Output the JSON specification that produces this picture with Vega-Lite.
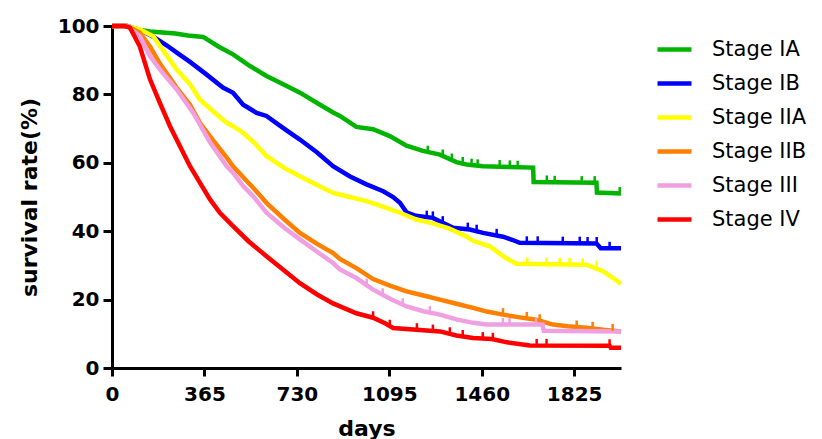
{
  "$schema": "https://vega.github.io/schema/vega-lite/v6.json",
  "autosize": {"type": "none"},
  "width": 509,
  "height": 342,
  "padding": {"left": 112, "top": 26, "right": 201, "bottom": 71},
  "background": "white",
  "config": {"view": {"stroke": null}},
  "datasets": {
    "curves": [
    {"stage":"Stage IA","day":0,"rate":100},{"stage":"Stage IA","day":60,"rate":100},{"stage":"Stage IA","day":100,"rate":99},{"stage":"Stage IA","day":150,"rate":98.4},{"stage":"Stage IA","day":250,"rate":97.8},{"stage":"Stage IA","day":300,"rate":97.2},{"stage":"Stage IA","day":360,"rate":96.8},{"stage":"Stage IA","day":420,"rate":94},{"stage":"Stage IA","day":478,"rate":91.7},{"stage":"Stage IA","day":545,"rate":88.3},{"stage":"Stage IA","day":610,"rate":85.4},{"stage":"Stage IA","day":680,"rate":82.8},{"stage":"Stage IA","day":742,"rate":80.5},{"stage":"Stage IA","day":810,"rate":77.5},{"stage":"Stage IA","day":873,"rate":74.7},{"stage":"Stage IA","day":900,"rate":73.7},{"stage":"Stage IA","day":965,"rate":70.5},{"stage":"Stage IA","day":1031,"rate":69.8},{"stage":"Stage IA","day":1097,"rate":67.8},{"stage":"Stage IA","day":1163,"rate":65},{"stage":"Stage IA","day":1228,"rate":63.5},{"stage":"Stage IA","day":1295,"rate":62.4},{"stage":"Stage IA","day":1360,"rate":60.2},{"stage":"Stage IA","day":1400,"rate":59.5},{"stage":"Stage IA","day":1465,"rate":59},{"stage":"Stage IA","day":1663,"rate":58.6},{"stage":"Stage IA","day":1665,"rate":54.4},{"stage":"Stage IA","day":1913,"rate":54.2},{"stage":"Stage IA","day":1915,"rate":51.3},{"stage":"Stage IA","day":2010,"rate":51},

    {"stage":"Stage IB","day":0,"rate":100},{"stage":"Stage IB","day":60,"rate":100},{"stage":"Stage IB","day":120,"rate":98.5},{"stage":"Stage IB","day":160,"rate":97},{"stage":"Stage IB","day":217,"rate":94.3},{"stage":"Stage IB","day":260,"rate":92},{"stage":"Stage IB","day":308,"rate":89.5},{"stage":"Stage IB","day":370,"rate":86},{"stage":"Stage IB","day":438,"rate":82},{"stage":"Stage IB","day":478,"rate":80.5},{"stage":"Stage IB","day":518,"rate":77},{"stage":"Stage IB","day":571,"rate":74.6},{"stage":"Stage IB","day":610,"rate":73.7},{"stage":"Stage IB","day":660,"rate":71},{"stage":"Stage IB","day":702,"rate":68.8},{"stage":"Stage IB","day":742,"rate":66.8},{"stage":"Stage IB","day":810,"rate":63},{"stage":"Stage IB","day":873,"rate":59},{"stage":"Stage IB","day":940,"rate":56},{"stage":"Stage IB","day":1005,"rate":53.7},{"stage":"Stage IB","day":1071,"rate":51.7},{"stage":"Stage IB","day":1110,"rate":50},{"stage":"Stage IB","day":1137,"rate":48.3},{"stage":"Stage IB","day":1163,"rate":45.5},{"stage":"Stage IB","day":1200,"rate":44.5},{"stage":"Stage IB","day":1267,"rate":43.9},{"stage":"Stage IB","day":1347,"rate":41},{"stage":"Stage IB","day":1413,"rate":40.5},{"stage":"Stage IB","day":1465,"rate":39.5},{"stage":"Stage IB","day":1544,"rate":38.4},{"stage":"Stage IB","day":1580,"rate":37.5},{"stage":"Stage IB","day":1610,"rate":36.6},{"stage":"Stage IB","day":1913,"rate":36.4},{"stage":"Stage IB","day":1930,"rate":35},{"stage":"Stage IB","day":2010,"rate":35},

    {"stage":"Stage IIA","day":0,"rate":100},{"stage":"Stage IIA","day":60,"rate":100},{"stage":"Stage IIA","day":110,"rate":99},{"stage":"Stage IIA","day":163,"rate":97},{"stage":"Stage IIA","day":210,"rate":92},{"stage":"Stage IIA","day":255,"rate":87.3},{"stage":"Stage IIA","day":308,"rate":83},{"stage":"Stage IIA","day":347,"rate":78.5},{"stage":"Stage IIA","day":400,"rate":75},{"stage":"Stage IIA","day":453,"rate":71.7},{"stage":"Stage IIA","day":478,"rate":70.7},{"stage":"Stage IIA","day":518,"rate":68.8},{"stage":"Stage IIA","day":560,"rate":66},{"stage":"Stage IIA","day":610,"rate":62},{"stage":"Stage IIA","day":680,"rate":58.5},{"stage":"Stage IIA","day":742,"rate":56.1},{"stage":"Stage IIA","day":810,"rate":53.5},{"stage":"Stage IIA","day":873,"rate":51.2},{"stage":"Stage IIA","day":940,"rate":50},{"stage":"Stage IIA","day":1005,"rate":48.8},{"stage":"Stage IIA","day":1070,"rate":47.2},{"stage":"Stage IIA","day":1137,"rate":45.4},{"stage":"Stage IIA","day":1200,"rate":43.5},{"stage":"Stage IIA","day":1267,"rate":42.3},{"stage":"Stage IIA","day":1330,"rate":40.8},{"stage":"Stage IIA","day":1399,"rate":38.5},{"stage":"Stage IIA","day":1426,"rate":37.2},{"stage":"Stage IIA","day":1492,"rate":35.6},{"stage":"Stage IIA","day":1544,"rate":32.7},{"stage":"Stage IIA","day":1597,"rate":30.5},{"stage":"Stage IIA","day":1873,"rate":30.2},{"stage":"Stage IIA","day":1939,"rate":28.3},{"stage":"Stage IIA","day":1979,"rate":26.3},{"stage":"Stage IIA","day":2010,"rate":24.6},

    {"stage":"Stage IIB","day":0,"rate":100},{"stage":"Stage IIB","day":60,"rate":100},{"stage":"Stage IIB","day":110,"rate":98},{"stage":"Stage IIB","day":150,"rate":94},{"stage":"Stage IIB","day":189,"rate":89},{"stage":"Stage IIB","day":255,"rate":82},{"stage":"Stage IIB","day":308,"rate":77},{"stage":"Stage IIB","day":347,"rate":71.7},{"stage":"Stage IIB","day":400,"rate":66.5},{"stage":"Stage IIB","day":453,"rate":61.5},{"stage":"Stage IIB","day":478,"rate":59},{"stage":"Stage IIB","day":518,"rate":55.8},{"stage":"Stage IIB","day":560,"rate":52.5},{"stage":"Stage IIB","day":610,"rate":48.3},{"stage":"Stage IIB","day":680,"rate":43.5},{"stage":"Stage IIB","day":742,"rate":39.5},{"stage":"Stage IIB","day":810,"rate":36.3},{"stage":"Stage IIB","day":873,"rate":33.6},{"stage":"Stage IIB","day":900,"rate":31.9},{"stage":"Stage IIB","day":965,"rate":29.2},{"stage":"Stage IIB","day":1031,"rate":26},{"stage":"Stage IIB","day":1100,"rate":24},{"stage":"Stage IIB","day":1163,"rate":22.4},{"stage":"Stage IIB","day":1230,"rate":21.2},{"stage":"Stage IIB","day":1295,"rate":20},{"stage":"Stage IIB","day":1360,"rate":18.8},{"stage":"Stage IIB","day":1426,"rate":17.6},{"stage":"Stage IIB","day":1480,"rate":16.5},{"stage":"Stage IIB","day":1544,"rate":15.6},{"stage":"Stage IIB","day":1610,"rate":14.8},{"stage":"Stage IIB","day":1676,"rate":14.1},{"stage":"Stage IIB","day":1741,"rate":12.7},{"stage":"Stage IIB","day":1800,"rate":12.2},{"stage":"Stage IIB","day":1873,"rate":11.8},{"stage":"Stage IIB","day":1940,"rate":11.2},{"stage":"Stage IIB","day":2010,"rate":10.7},

    {"stage":"Stage III","day":0,"rate":100},{"stage":"Stage III","day":60,"rate":100},{"stage":"Stage III","day":110,"rate":97},{"stage":"Stage III","day":150,"rate":91.2},{"stage":"Stage III","day":189,"rate":87.3},{"stage":"Stage III","day":255,"rate":81.5},{"stage":"Stage III","day":321,"rate":74.6},{"stage":"Stage III","day":387,"rate":66},{"stage":"Stage III","day":453,"rate":59},{"stage":"Stage III","day":478,"rate":57.1},{"stage":"Stage III","day":518,"rate":53.2},{"stage":"Stage III","day":560,"rate":50},{"stage":"Stage III","day":610,"rate":45.4},{"stage":"Stage III","day":680,"rate":41},{"stage":"Stage III","day":742,"rate":37.6},{"stage":"Stage III","day":810,"rate":34},{"stage":"Stage III","day":873,"rate":30.7},{"stage":"Stage III","day":900,"rate":28.8},{"stage":"Stage III","day":965,"rate":26.3},{"stage":"Stage III","day":1031,"rate":22.9},{"stage":"Stage III","day":1100,"rate":20.2},{"stage":"Stage III","day":1163,"rate":18},{"stage":"Stage III","day":1230,"rate":16.6},{"stage":"Stage III","day":1295,"rate":15.6},{"stage":"Stage III","day":1360,"rate":14.2},{"stage":"Stage III","day":1426,"rate":13.2},{"stage":"Stage III","day":1480,"rate":12.7},{"stage":"Stage III","day":1700,"rate":12.7},{"stage":"Stage III","day":1705,"rate":10.9},{"stage":"Stage III","day":2010,"rate":10.7},

    {"stage":"Stage IV","day":0,"rate":100},{"stage":"Stage IV","day":50,"rate":100},{"stage":"Stage IV","day":71,"rate":99.5},{"stage":"Stage IV","day":110,"rate":94},{"stage":"Stage IV","day":150,"rate":84.4},{"stage":"Stage IV","day":189,"rate":77.5},{"stage":"Stage IV","day":229,"rate":70.7},{"stage":"Stage IV","day":268,"rate":64.9},{"stage":"Stage IV","day":308,"rate":59},{"stage":"Stage IV","day":347,"rate":54.2},{"stage":"Stage IV","day":387,"rate":49.3},{"stage":"Stage IV","day":426,"rate":45.4},{"stage":"Stage IV","day":478,"rate":41.5},{"stage":"Stage IV","day":540,"rate":37},{"stage":"Stage IV","day":610,"rate":32.7},{"stage":"Stage IV","day":680,"rate":28.5},{"stage":"Stage IV","day":742,"rate":24.8},{"stage":"Stage IV","day":810,"rate":21.5},{"stage":"Stage IV","day":873,"rate":18.9},{"stage":"Stage IV","day":965,"rate":16},{"stage":"Stage IV","day":1031,"rate":14.7},{"stage":"Stage IV","day":1080,"rate":13},{"stage":"Stage IV","day":1110,"rate":11.7},{"stage":"Stage IV","day":1295,"rate":10.7},{"stage":"Stage IV","day":1360,"rate":9.5},{"stage":"Stage IV","day":1426,"rate":8.8},{"stage":"Stage IV","day":1500,"rate":8.5},{"stage":"Stage IV","day":1560,"rate":7.5},{"stage":"Stage IV","day":1650,"rate":6.6},{"stage":"Stage IV","day":1965,"rate":6.5},{"stage":"Stage IV","day":1970,"rate":5.9},{"stage":"Stage IV","day":2010,"rate":5.9}
    ],
    "censored": [
    {"stage":"Stage IA","day":1247,"rate":63.1},{"stage":"Stage IA","day":1306,"rate":62},{"stage":"Stage IA","day":1342,"rate":60.8},{"stage":"Stage IA","day":1385,"rate":59.8},{"stage":"Stage IA","day":1420,"rate":59.3},{"stage":"Stage IA","day":1444,"rate":59.1},{"stage":"Stage IA","day":1531,"rate":58.9},{"stage":"Stage IA","day":1571,"rate":58.8},{"stage":"Stage IA","day":1602,"rate":58.7},{"stage":"Stage IA","day":1717,"rate":54.4},{"stage":"Stage IA","day":1748,"rate":54.3},{"stage":"Stage IA","day":1855,"rate":54.2},{"stage":"Stage IA","day":1906,"rate":54.2},{"stage":"Stage IA","day":2005,"rate":51},
    {"stage":"Stage IB","day":1243,"rate":44.1},{"stage":"Stage IB","day":1267,"rate":43.9},{"stage":"Stage IB","day":1306,"rate":42.5},{"stage":"Stage IB","day":1405,"rate":40.6},{"stage":"Stage IB","day":1440,"rate":40},{"stage":"Stage IB","day":1519,"rate":38.8},{"stage":"Stage IB","day":1638,"rate":36.6},{"stage":"Stage IB","day":1681,"rate":36.6},{"stage":"Stage IB","day":1780,"rate":36.5},{"stage":"Stage IB","day":1847,"rate":36.5},{"stage":"Stage IB","day":1878,"rate":36.4},{"stage":"Stage IB","day":1914,"rate":36.4},{"stage":"Stage IB","day":1965,"rate":35},
    {"stage":"Stage IIA","day":1640,"rate":30.4},{"stage":"Stage IIA","day":1716,"rate":30.4},{"stage":"Stage IIA","day":1768,"rate":30.3},{"stage":"Stage IIA","day":1807,"rate":30.3},{"stage":"Stage IIA","day":1859,"rate":30.2},{"stage":"Stage IIA","day":1914,"rate":29.5},
    {"stage":"Stage IIB","day":1544,"rate":15.6},{"stage":"Stage IIB","day":1638,"rate":14.5},{"stage":"Stage IIB","day":1689,"rate":13.8},{"stage":"Stage IIB","day":1835,"rate":12},{"stage":"Stage IIB","day":1898,"rate":11.6},{"stage":"Stage IIB","day":1977,"rate":11},
    {"stage":"Stage III","day":1006,"rate":24.2},{"stage":"Stage III","day":1069,"rate":21.4},{"stage":"Stage III","day":1148,"rate":18.5},{"stage":"Stage III","day":1255,"rate":16.2},{"stage":"Stage III","day":1544,"rate":12.7},{"stage":"Stage III","day":1570,"rate":12.7},{"stage":"Stage III","day":1675,"rate":12.7},
    {"stage":"Stage IV","day":1031,"rate":14.7},{"stage":"Stage IV","day":1097,"rate":12.2},{"stage":"Stage IV","day":1204,"rate":11.2},{"stage":"Stage IV","day":1267,"rate":10.8},{"stage":"Stage IV","day":1334,"rate":10},{"stage":"Stage IV","day":1385,"rate":9.2},{"stage":"Stage IV","day":1464,"rate":8.6},{"stage":"Stage IV","day":1504,"rate":8.4},{"stage":"Stage IV","day":1677,"rate":6.6},{"stage":"Stage IV","day":1716,"rate":6.6},{"stage":"Stage IV","day":1965,"rate":6.5}
    ]
  },
  "encoding": {
    "x": {
      "field": "day", "type": "quantitative",
      "scale": {"domain": [0, 2010], "nice": false, "zero": true},
      "axis": {
        "title": "days", "values": [0, 365, 730, 1095, 1460, 1825], "format": "d",
        "grid": false, "domainColor": "black", "domainWidth": 3, "tickColor": "black", "tickWidth": 3, "tickSize": 8,
        "labelFont": "DejaVu Sans", "labelFontWeight": "bold", "labelFontSize": 20, "labelColor": "black", "labelPadding": 8,
        "labelFlush": false,
        "titleFont": "DejaVu Sans", "titleFontWeight": "bold", "titleFontSize": 22, "titleColor": "black", "titlePadding": 14
      }
    },
    "y": {
      "field": "rate", "type": "quantitative",
      "scale": {"domain": [0, 100], "nice": false},
      "axis": {
        "title": "survival rate(%)", "values": [0, 20, 40, 60, 80, 100], "format": "d",
        "grid": false, "domainColor": "black", "domainWidth": 3, "tickColor": "black", "tickWidth": 3, "tickSize": 9,
        "labelFont": "DejaVu Sans", "labelFontWeight": "bold", "labelFontSize": 20, "labelColor": "black", "labelPadding": 4,
        "labelFlush": false,
        "titleFont": "DejaVu Sans", "titleFontWeight": "bold", "titleFontSize": 22, "titleColor": "black", "titlePadding": 16
      }
    },
    "color": {
      "field": "stage", "type": "nominal",
      "scale": {
        "domain": ["Stage IA", "Stage IB", "Stage IIA", "Stage IIB", "Stage III", "Stage IV"],
        "range": ["#00b400", "#0000ff", "#ffff00", "#ff7f00", "#f0a0e0", "#ff0000"]
      },
      "legend": {
        "title": null, "orient": "none", "legendX": 543, "legendY": 4,
        "symbolType": "stroke", "symbolSize": 1156, "symbolStrokeWidth": 4.5, "symbolOpacity": 1,
        "labelFont": "DejaVu Sans", "labelFontSize": 21, "labelColor": "black", "labelOffset": 18,
        "rowPadding": 4
      }
    }
  },
  "layer": [
    {
      "data": {"name": "curves"},
      "mark": {"type": "line", "strokeWidth": 4.5, "interpolate": "linear", "opacity": 1},
      "encoding": {"order": {"field": "day", "type": "quantitative"}}
    },
    {
      "data": {"name": "censored"},
      "mark": {"type": "tick", "orient": "vertical", "size": 7, "thickness": 2.5, "yOffset": -3, "opacity": 1},
      "encoding": {}
    }
  ]
}
